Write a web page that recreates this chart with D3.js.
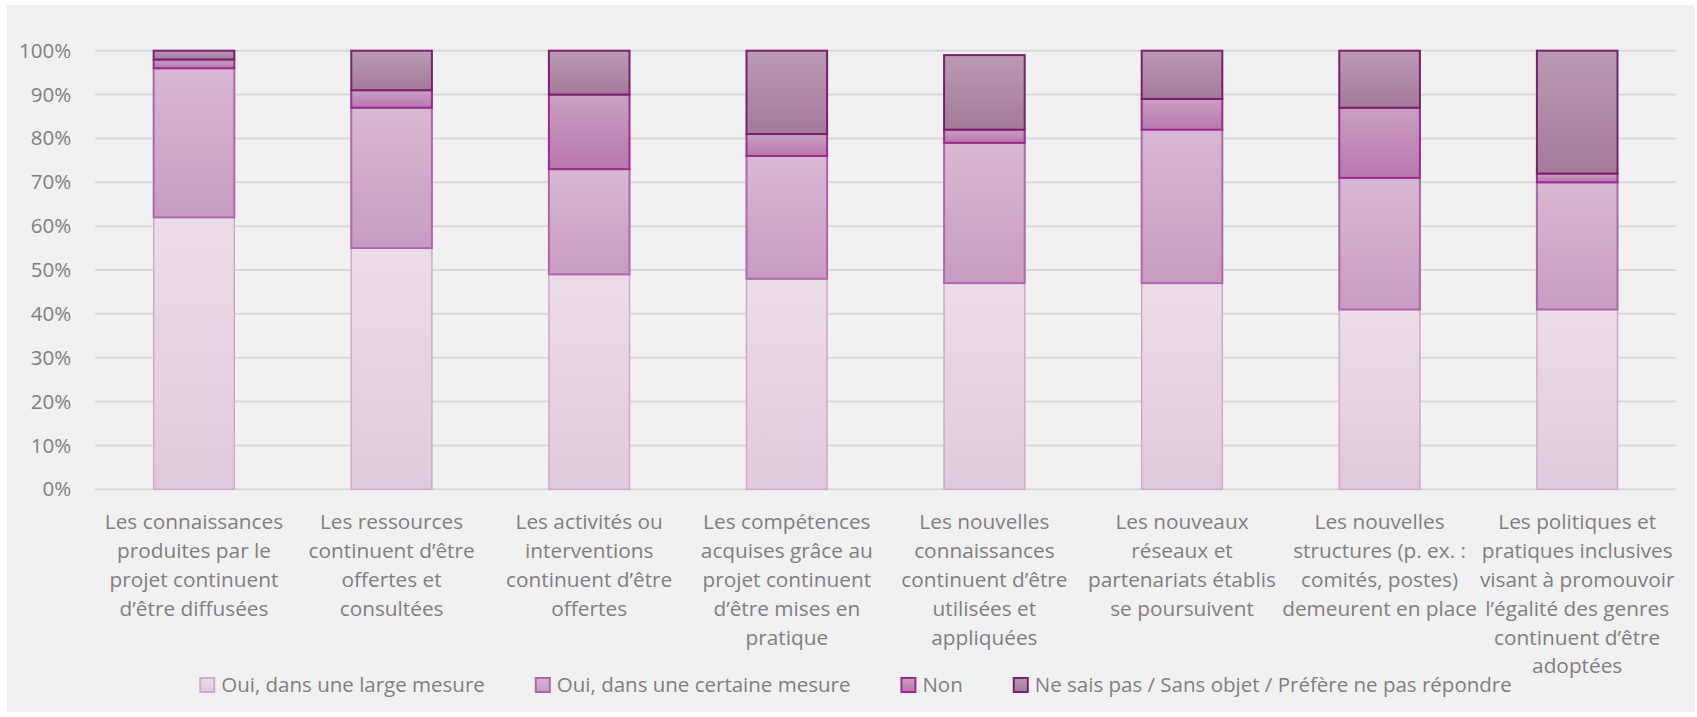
<!DOCTYPE html>
<html>
<head>
<meta charset="utf-8">
<script src="https://cdn.jsdelivr.net/npm/d3@7"></script>
<style>
  body { margin: 0; background: #ffffff; }
  text { font-family: "Open Sans", "Noto Sans", sans-serif; fill: #7f7f7f; }
</style>
</head>
<body>
<div id="chart"></div>
<script>
// Categories (line breaks as in the original)
const categories = [
  "Les connaissances\nproduites par le\nprojet continuent\nd’être diffusées",
  "Les ressources\ncontinuent d’être\noffertes et\nconsultées",
  "Les activités ou\ninterventions\ncontinuent d’être\noffertes",
  "Les compétences\nacquises grâce au\nprojet continuent\nd’être mises en\npratique",
  "Les nouvelles\nconnaissances\ncontinuent d’être\nutilisées et\nappliquées",
  "Les nouveaux\nréseaux et\npartenariats établis\nse poursuivent",
  "Les nouvelles\nstructures (p. ex. :\ncomités, postes)\ndemeurent en place",
  "Les politiques et\npratiques inclusives\nvisant à promouvoir\nl’égalité des genres\ncontinuent d’être\nadoptées"
];

const seriesNames = [
  "Oui, dans une large mesure",
  "Oui, dans une certaine mesure",
  "Non",
  "Ne sais pas / Sans objet / Préfère ne pas répondre"
];

// Percentages
const largeMesure   = [62, 55, 49, 48, 47, 47, 41, 41];
const certaineMesure = [34, 32, 24, 28, 32, 35, 30, 29];
const nonValues     = [2, 4, 17, 5, 3, 7, 16, 2];
const nspValues     = [2, 9, 10, 19, 17, 11, 13, 28];

const yTicks = [0, 10, 20, 30, 40, 50, 60, 70, 80, 90, 100];

// Colours: gradient top, gradient bottom, outline
const seriesStyle = [
  {top: "#eadde8", bottom: "#dfc9dc", stroke: "#d0a9cb", sw: 1.5},
  {top: "#d8b8d2", bottom: "#c89bc2", stroke: "#b066aa", sw: 2},
  {top: "#caa0c3", bottom: "#b877ad", stroke: "#9c2b90", sw: 2},
  {top: "#ba9ab3", bottom: "#a47a9b", stroke: "#7a1f6e", sw: 2}
];

const W = 1697, H = 717;
const margin = {top: 50.7, left: 95.2, right: W - 1676, bottom: H - 489.3};
const width = W - margin.left - margin.right,
      height = H - margin.top - margin.bottom;

const svg = d3.select("#chart").append("svg")
  .attr("width", W)
  .attr("height", H);

// Chart area background
svg.append("rect")
  .attr("x", 7).attr("y", 5)
  .attr("width", 1688).attr("height", 707)
  .attr("fill", "#f1f1f1");

// Gradients
const defs = svg.append("defs");
seriesStyle.forEach((s, i) => {
  const g = defs.append("linearGradient")
    .attr("id", "grad" + i)
    .attr("x1", 0).attr("y1", 0).attr("x2", 0).attr("y2", 1);
  g.append("stop").attr("offset", "0%").attr("stop-color", s.top);
  g.append("stop").attr("offset", "100%").attr("stop-color", s.bottom);
});

const g = svg.append("g")
  .attr("transform", `translate(${margin.left},${margin.top})`);

const x = d3.scaleBand()
  .domain(d3.range(categories.length))
  .range([0, width])
  .paddingInner(0.592)
  .paddingOuter(0.296);

const y = d3.scaleLinear()
  .domain([0, 100])
  .range([height, 0]);

// Gridlines
g.append("g")
  .selectAll("line")
  .data(yTicks)
  .join("line")
  .attr("x1", 0).attr("x2", width)
  .attr("y1", d => y(d)).attr("y2", d => y(d))
  .attr("stroke", "#d9d9d9")
  .attr("stroke-width", 2);

// Y axis labels
const yAxis = g.append("g")
  .call(d3.axisLeft(y).tickValues(yTicks).tickFormat(d => d + "%").tickSize(0).tickPadding(24));
yAxis.select(".domain").remove();
yAxis.selectAll("text")
  .style("font-size", "20.5px")
  .attr("fill", "#7f7f7f");

// Stack the data
const table = categories.map((c, i) => ({
  i: i,
  s0: largeMesure[i],
  s1: certaineMesure[i],
  s2: nonValues[i],
  s3: nspValues[i]
}));
const stack = d3.stack().keys(["s0", "s1", "s2", "s3"]);
const stacked = stack(table);

stacked.forEach((layer, k) => {
  const st = seriesStyle[k];
  g.append("g")
    .selectAll("rect")
    .data(layer)
    .join("rect")
    .attr("x", d => x(d.data.i))
    .attr("width", x.bandwidth())
    .attr("y", d => y(d[1]))
    .attr("height", d => y(d[0]) - y(d[1]))
    .attr("fill", `url(#grad${k})`)
    .attr("stroke", st.stroke)
    .attr("stroke-width", st.sw);
});

// X labels
const lineH = 28.9;
const xl = g.append("g");
categories.forEach((c, i) => {
  const t = xl.append("text")
    .attr("text-anchor", "middle")
    .attr("x", x(i) + x.bandwidth() / 2)
    .attr("y", 521.7 - margin.top)
    .style("font-size", "20.8px");
  c.split("\n").forEach((line, j) => {
    t.append("tspan")
      .attr("x", x(i) + x.bandwidth() / 2)
      .attr("dy", j === 0 ? "0.35em" : lineH)
      .text(line);
  });
});

// Legend
const legend = svg.append("g");
const items = legend.selectAll("g")
  .data(seriesNames)
  .join("g");
items.append("rect")
  .attr("width", 14).attr("height", 14)
  .attr("y", -7)
  .attr("fill", (d, i) => `url(#grad${i})`)
  .attr("stroke", (d, i) => seriesStyle[i].stroke)
  .attr("stroke-width", 2);
items.append("text")
  .attr("x", 21)
  .attr("dy", "0.35em")
  .style("font-size", "20.5px")
  .text(d => d);

let pos = 0;
const gap = 51;
const offsets = [];
items.each(function() {
  offsets.push(pos);
  pos += this.getBBox().width + gap;
});
const total = pos - gap;
const startX = 856 - total / 2;
items.attr("transform", (d, i) => `translate(${startX + offsets[i]},685)`);
</script>
</body>
</html>
